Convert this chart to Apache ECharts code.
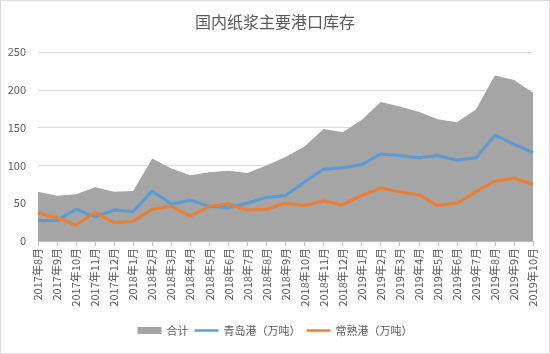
<!DOCTYPE html>
<html>
<head>
<meta charset="utf-8">
<script src="https://cdn.jsdelivr.net/npm/echarts@6/dist/echarts.min.js"></script>
<style>
  html, body { margin: 0; padding: 0; background: #fff; }
  #main { width: 548px; height: 352px; border: 1px solid #d9d9d9; }
</style>
</head>
<body>
<div id="main"></div>
<script>
// 月份
var months = ['2017年8月','2017年9月','2017年10月','2017年11月','2017年12月',
  '2018年1月','2018年2月','2018年3月','2018年4月','2018年5月','2018年6月','2018年7月',
  '2018年8月','2018年9月','2018年10月','2018年11月','2018年12月',
  '2019年1月','2019年2月','2019年3月','2019年4月','2019年5月','2019年6月','2019年7月',
  '2019年8月','2019年9月','2019年10月'];
// 合计
var total = [65, 60, 62, 71, 65, 66, 109, 96, 87, 91, 93, 90, 100, 111,
  125, 148, 144, 160, 184, 178, 171, 161, 157, 174, 219, 213, 196];
// 青岛港（万吨）
var qingdao = [27, 27, 42, 32, 41, 39, 66, 49, 54, 46, 44, 50, 58, 60,
  78, 95, 97, 101, 115, 113, 110, 113, 107, 110, 140, 128, 117];
// 常熟港（万吨）
var changshu = [37, 31, 21, 38, 24, 26, 42, 46, 33, 46, 49, 41, 42, 50,
  47, 53, 48, 60, 70, 65, 61, 47, 50, 65, 79, 83, 75];
var yTicks = [0, 50, 100, 150, 200, 250];

var chart = echarts.init(document.getElementById('main'));
var textColor = '#595959';
var font = '"Noto Sans CJK SC", "Microsoft YaHei", sans-serif';
var lineIcon = 'path://M0,0H30V3H0Z';

chart.setOption({
  animation: false,
  textStyle: { fontFamily: font },
  title: {
    text: '国内纸浆主要港口库存',
    left: 'center',
    top: 8,
    textStyle: { fontSize: 16, fontWeight: 'normal', color: textColor, fontFamily: font }
  },
  legend: {
    bottom: 12,
    left: 'center',
    itemWidth: 24,
    itemHeight: 7,
    itemGap: 6,
    textStyle: { fontSize: 11, color: textColor, fontFamily: font },
    data: [
      { name: '合计', icon: 'rect' },
      { name: '青岛港（万吨）', icon: lineIcon },
      { name: '常熟港（万吨）', icon: lineIcon }
    ]
  },
  grid: { left: 37, right: 16, top: 51, bottom: 112 },
  xAxis: {
    type: 'category',
    boundaryGap: false,
    data: months,
    axisLine: { lineStyle: { color: '#bfbfbf' } },
    axisTick: { show: true, alignWithLabel: true, lineStyle: { color: '#bfbfbf' } },
    axisLabel: { interval: 0, rotate: 90, fontSize: 11, color: textColor, margin: 7, fontFamily: font }
  },
  yAxis: {
    type: 'value',
    min: yTicks[0],
    max: yTicks[yTicks.length - 1],
    interval: 50,
    axisLine: { show: false },
    axisTick: { show: false },
    axisLabel: { fontSize: 11, color: textColor, margin: 12, fontFamily: font },
    splitLine: { lineStyle: { color: '#d9d9d9' } }
  },
  series: [
    {
      name: '合计',
      type: 'line',
      data: total,
      symbol: 'none',
      color: '#a5a5a5',
      lineStyle: { width: 0 },
      areaStyle: { color: '#a5a5a5', opacity: 1 }
    },
    {
      name: '青岛港（万吨）',
      type: 'line',
      data: qingdao,
      symbol: 'none',
      color: '#5b9bd5',
      lineStyle: { width: 3, color: '#5b9bd5' }
    },
    {
      name: '常熟港（万吨）',
      type: 'line',
      data: changshu,
      symbol: 'none',
      color: '#ed7d31',
      lineStyle: { width: 3, color: '#ed7d31' }
    }
  ]
});
</script>
</body>
</html>
